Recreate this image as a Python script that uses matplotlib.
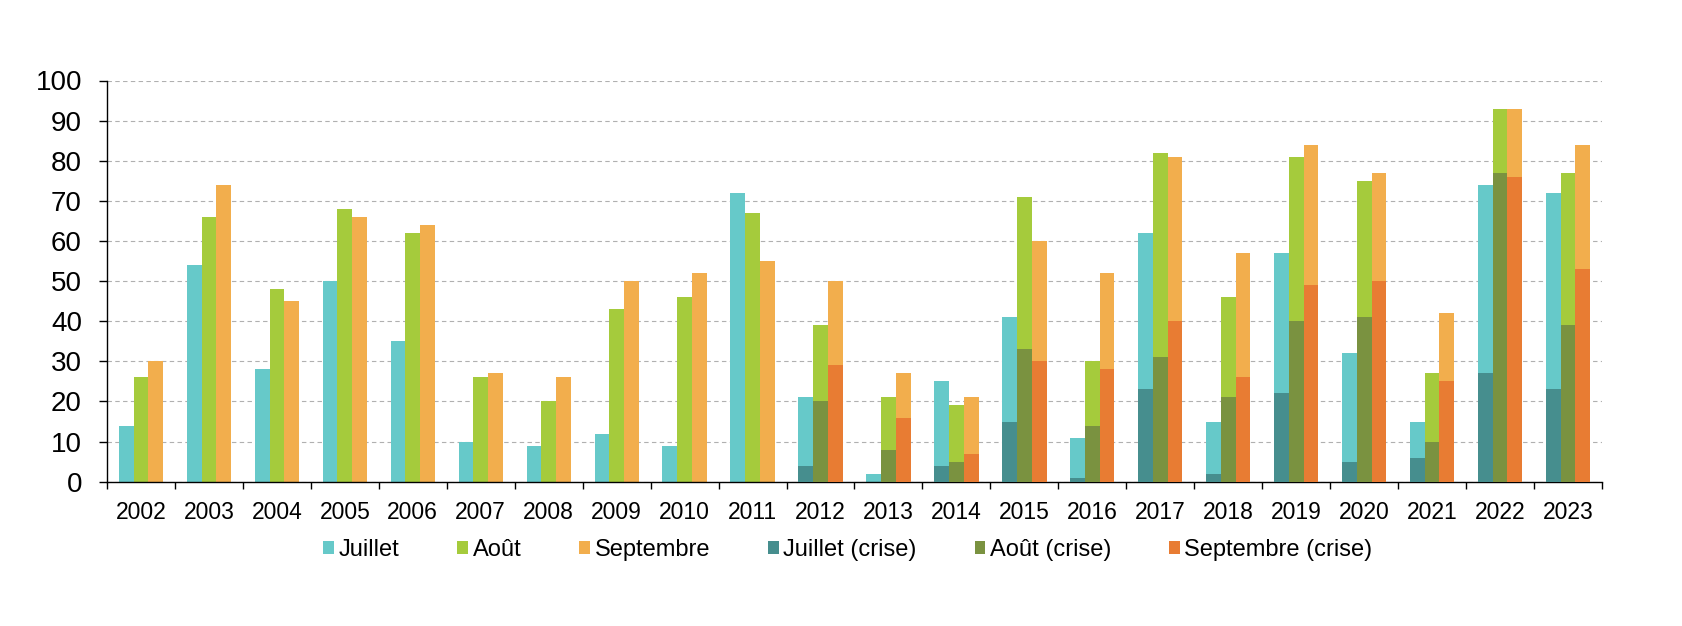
import matplotlib
matplotlib.use("Agg")
import matplotlib.pyplot as plt
import numpy as np

plt.rcParams["font.family"] = ["Liberation Sans", "DejaVu Sans"]

years = ["2002", "2003", "2004", "2005", "2006", "2007", "2008", "2009", "2010", "2011", "2012",
         "2013", "2014", "2015", "2016", "2017", "2018", "2019", "2020", "2021", "2022", "2023"]
juillet = [14, 54, 28, 50, 35, 10, 9, 12, 9, 72, 21, 2, 25, 41, 11, 62, 15, 57, 32, 15, 74, 72]
aout = [26, 66, 48, 68, 62, 26, 20, 43, 46, 67, 39, 21, 19, 71, 30, 82, 46, 81, 75, 27, 93, 77]
septembre = [30, 74, 45, 66, 64, 27, 26, 50, 52, 55, 50, 27, 21, 60, 52, 81, 57, 84, 77, 42, 93, 84]
juillet_crise = [0, 0, 0, 0, 0, 0, 0, 0, 0, 0, 4, 0, 4, 15, 1, 23, 2, 22, 5, 6, 27, 23]
aout_crise = [0, 0, 0, 0, 0, 0, 0, 0, 0, 0, 20, 8, 5, 33, 14, 31, 21, 40, 41, 10, 77, 39]
septembre_crise = [0, 0, 0, 0, 0, 0, 0, 0, 0, 0, 29, 16, 7, 30, 28, 40, 26, 49, 50, 25, 76, 53]

labels = ["Juillet", "Août", "Septembre", "Juillet (crise)", "Août (crise)", "Septembre (crise)"]
colors = ["#66C9C9", "#A5CB3C", "#F2AE4D", "#468E8E", "#7A9240", "#E87C33"]

fig = plt.figure(figsize=(16.82, 6.26), dpi=100)
ax = fig.add_axes([107 / 1682, 1 - 481.7 / 626, (1602 - 107) / 1682, (481.7 - 80.5) / 626])

x = np.arange(len(years))
w = 0.217
offsets = [-w, 0, w]
normal = [juillet, aout, septembre]
crise = [juillet_crise, aout_crise, septembre_crise]
handles = []
for i in range(3):
    h = ax.bar(x + offsets[i], normal[i], width=w, color=colors[i], label=labels[i], zorder=2, linewidth=0)
    handles.append(h)
for i in range(3):
    h = ax.bar(x + offsets[i], crise[i], width=w, color=colors[i + 3], label=labels[i + 3], zorder=3, linewidth=0)
    handles.append(h)

ax.set_xlim(-0.5, len(years) - 0.5)
ax.set_ylim(0, 100)
ax.set_yticks(np.arange(0, 101, 10))
ax.tick_params(axis="y", labelsize=20, length=6, width=1, direction="out", pad=12, colors="black")
ax.set_xticks(x)
ax.set_xticklabels(years)
ax.tick_params(axis="x", which="major", length=0, labelsize=16.5, pad=14)
ax.set_xticks(np.arange(-0.5, len(years), 1), minor=True)
ax.tick_params(axis="x", which="minor", length=5, width=1, direction="out")

ax.yaxis.grid(True, linestyle=(0, (4, 3)), color="#B0B0B0", linewidth=0.8, zorder=0)
ax.set_axisbelow(True)
for s in ["top", "right"]:
    ax.spines[s].set_visible(False)
ax.spines["left"].set_linewidth(1)
ax.spines["bottom"].set_linewidth(1)

fig.legend(handles=handles, labels=labels, loc="center", bbox_to_anchor=(848 / 1682, 1 - 550 / 626),
           ncol=6, frameon=False, fontsize=17, handlelength=0.45, handleheight=0.45,
           handletextpad=0.2, columnspacing=2.45)

fig.savefig("out.png", dpi=100, facecolor="white")
